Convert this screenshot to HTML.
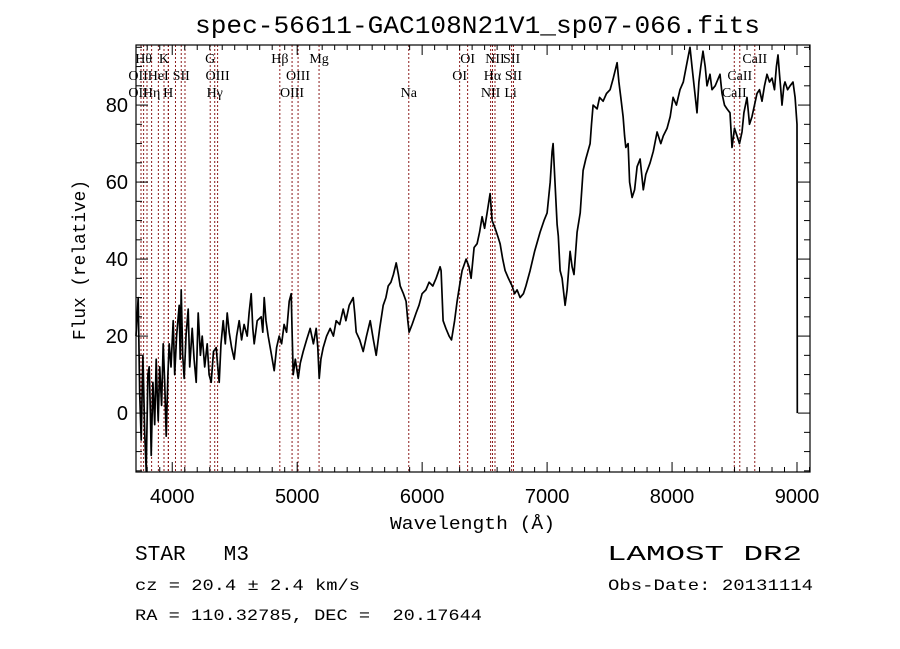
<!DOCTYPE html>
<html><head><meta charset="utf-8"><style>
html,body{margin:0;padding:0;background:#fff;}
svg{display:block;}
text{white-space:pre;}
</style></head><body>
<svg id="chart" width="900" height="649" viewBox="0 0 900 649" xmlns="http://www.w3.org/2000/svg" xml:space="preserve">
<rect x="0" y="0" width="900" height="649" fill="#fff"/>
<text x="195" y="33" font-family="Liberation Mono, monospace" font-size="25" textLength="565" lengthAdjust="spacingAndGlyphs">spec-56611-GAC108N21V1_sp07-066.fits</text>
<g id="lines"></g>
<g id="series"></g>
<g id="axes"></g>
<text x="390" y="529" font-family="Liberation Mono, monospace" font-size="18" textLength="165" lengthAdjust="spacingAndGlyphs">Wavelength (Å)</text>
<text transform="translate(85,340) rotate(-90)" font-family="Liberation Mono, monospace" font-size="18" textLength="160" lengthAdjust="spacingAndGlyphs">Flux (relative)</text>
<text x="135" y="560" font-family="Liberation Mono, monospace" font-size="21" textLength="114" lengthAdjust="spacingAndGlyphs">STAR   M3</text>
<text x="135" y="590" font-family="Liberation Mono, monospace" font-size="16" textLength="225" lengthAdjust="spacingAndGlyphs">cz = 20.4 ± 2.4 km/s</text>
<text x="135" y="620" font-family="Liberation Mono, monospace" font-size="16" textLength="347" lengthAdjust="spacingAndGlyphs">RA = 110.32785, DEC =  20.17644</text>
<text x="607" y="560" font-family="Liberation Mono, monospace" font-size="21" textLength="195" lengthAdjust="spacingAndGlyphs">LAMOST DR2</text>
<text x="608" y="590" font-family="Liberation Mono, monospace" font-size="16" textLength="205" lengthAdjust="spacingAndGlyphs">Obs-Date: 20131114</text>
</svg>
<script>
const wavelengths=[3710,3728,3740,3752,3765,3780,3792,3805,3816,3825,3832,3845,3860,3872,3880,3888,3900,3915,3928,3940,3952,3965,3976,3990,4008,4020,4035,4056,4064,4072,4084,4096,4110,4128,4140,4160,4175,4192,4208,4225,4240,4260,4280,4295,4312,4330,4352,4365,4376,4390,4408,4425,4440,4456,4475,4496,4515,4536,4555,4575,4600,4615,4632,4645,4656,4680,4712,4725,4736,4750,4768,4790,4816,4835,4856,4875,4895,4915,4936,4952,4960,4968,4985,5008,5025,5048,5075,5104,5130,5152,5165,5176,5190,5208,5235,5264,5290,5312,5340,5368,5390,5416,5448,5460,5472,5500,5528,5555,5584,5610,5632,5660,5688,5710,5728,5750,5770,5792,5810,5824,5850,5872,5885,5896,5920,5952,5975,6000,6030,6056,6085,6112,6144,6152,6168,6190,6216,6235,6260,6280,6304,6320,6352,6375,6392,6416,6440,6460,6480,6500,6520,6544,6560,6584,6605,6624,6645,6664,6690,6720,6740,6760,6784,6810,6830,6864,6900,6944,6975,7000,7025,7040,7048,7060,7080,7090,7104,7120,7144,7160,7184,7200,7215,7240,7265,7288,7310,7344,7355,7368,7400,7420,7448,7475,7504,7530,7560,7575,7590,7608,7620,7630,7648,7660,7680,7700,7720,7744,7770,7790,7824,7850,7880,7910,7930,7960,7985,8008,8035,8064,8090,8120,8144,8160,8180,8200,8215,8230,8248,8265,8280,8304,8320,8345,8384,8400,8420,8440,8464,8480,8500,8520,8540,8560,8575,8600,8620,8640,8660,8680,8700,8720,8740,8760,8780,8800,8820,8835,8848,8860,8870,8880,8895,8904,8925,8945,8968,8985,9000,9002];
const flux=[20,30,5,-7,15,-5,-15,10,12,0,-11,8,-3,14,5,-2,12,2,18,8,-6,10,18,12,24,10,20,28,14,32,15,9,20,27,12,22,14,8,26,15,20,12,18,10,8,16,17,12,8,18,24,18,26,21,17,14,20,24,19,23,20,26,31,22,18,24,25,21,30,24,20,16,11,17,20,18,23,21,29,31,20,10,14,9,13,16,19,22,18,22,17,9,14,17,20,22,20,24,23,27,24,28,30,26,21,19,16,20,24,19,15,22,28,30,33,34,36,39,36,33,31,29,24,21,23,26,28,31,32,34,33,35,38,37,24,22,20,19,24,29,34,37,40,38,35,43,44,47,51,48,52,57,50,48,46,44,40,37,35,33,31,32,30,31,33,37,42,47,50,52,60,68,70,62,49,46,37,35,28,32,42,38,36,47,52,63,66,70,75,80,79,82,81,83,84,87,91,86,82,77,72,69,70,60,56,58,64,66,58,62,65,68,73,70,72,74,77,82,80,84,86,91,95,90,84,78,86,90,94,90,85,88,84,85,88,83,80,79,78,69,74,72,70,73,78,82,75,77,80,83,84,81,85,88,86,87,84,90,93,88,84,80,85,86,84,85,86,82,75,0];
const xTickValues=[4000,5000,6000,7000,8000,9000];
const xTickLabels=["4000","5000","6000","7000","8000","9000"];
const yTickValues=[0,20,40,60,80];
const yTickLabels=["0","20","40","60","80"];
const lineWaves=[3750,3771,3798,3835,3889,3934,3968,3970,4026,4072,4102,4304,4340,4363,4861,4959,5007,5175,5893,6300,6364,6548,6563,6583,6716,6731,8498,8542,8662];
const labelWaves=[3771,3934,4304,4861,5175,6364,6583,6716,8662,3727,3888,4072,4363,5007,6300,6563,6731,8542,3727,3835,3968,4340,4959,5893,6548,6708,8498];
const labelTexts=["Hθ","K","G","Hβ","Mg","OI","NII","SII","CaII","OII","HeI","SII","OIII","OIII","OI","Hα","SII","CaII","OII","Hη","H","Hγ","OIII","Na","NII","Li","CaII"];
const labelRows=[0,0,0,0,0,0,0,0,0,1,1,1,1,1,1,1,1,1,2,2,2,2,2,2,2,2,2];

const L=136,R=810,T=45,B=472,XMIN=3710,XMAX=9104,YMIN=-15.3,YMAX=95.6;
const xs=v=>L+(v-XMIN)/(XMAX-XMIN)*(R-L);
const ys=v=>B-(v-YMIN)/(YMAX-YMIN)*(B-T);
const NS="http://www.w3.org/2000/svg";
function mk(tag,attrs,parent){const e=document.createElementNS(NS,tag);for(const k in attrs)e.setAttribute(k,attrs[k]);parent.appendChild(e);return e;}

const lg=document.getElementById('lines');
lineWaves.forEach(w=>{
  const l=mk('line',{x1:xs(w),x2:xs(w),y1:T,y2:B,stroke:'#8b1a1a','stroke-width':1,'stroke-dasharray':'2,2'},lg);
  
  
});
labelTexts.forEach((t,i)=>{
  const tx=mk('text',{x:xs(labelWaves[i]),y:63+labelRows[i]*17,'text-anchor':'middle','font-family':'Liberation Serif, serif','font-size':14},lg);
  tx.textContent=t;
  
  
});

const sg=document.getElementById('series');
let d='';
wavelengths.forEach((w,i)=>{d+=(i?'L':'M')+xs(w).toFixed(1)+','+ys(flux[i]).toFixed(1);});
const p=mk('path',{d:d,fill:'none',stroke:'#000','stroke-width':1.7,'stroke-linejoin':'round'},sg);



const ag=document.getElementById('axes');
const frame=mk('rect',{x:L,y:T,width:R-L,height:B-T,fill:'none',stroke:'#000','stroke-width':1.2},ag);


for(let v=3800;v<=XMAX;v+=100){
  const big=v%1000===0, len=big?10:5, x=xs(v);
  mk('line',{x1:x,x2:x,y1:B,y2:B-len,stroke:'#000','stroke-width':1},ag);
  mk('line',{x1:x,x2:x,y1:T,y2:T+len,stroke:'#000','stroke-width':1},ag);
}
for(let v=-15;v<=95;v+=5){
  const big=v%20===0, len=big?12:6, y=ys(v);
  mk('line',{x1:L,x2:L+len,y1:y,y2:y,stroke:'#000','stroke-width':1},ag);
  mk('line',{x1:R,x2:R-len,y1:y,y2:y,stroke:'#000','stroke-width':1},ag);
}
xTickValues.forEach((v,i)=>{
  const t=mk('text',{x:xs(v),y:503,'text-anchor':'middle','font-family':'Liberation Sans, sans-serif','font-size':20},ag);
  t.textContent=xTickLabels[i];
  
  
});
yTickValues.forEach((v,i)=>{
  const t=mk('text',{x:128,y:ys(v)+7,'text-anchor':'end','font-family':'Liberation Sans, sans-serif','font-size':20},ag);
  t.textContent=yTickLabels[i];
  
  
});
</script>
</body></html>
